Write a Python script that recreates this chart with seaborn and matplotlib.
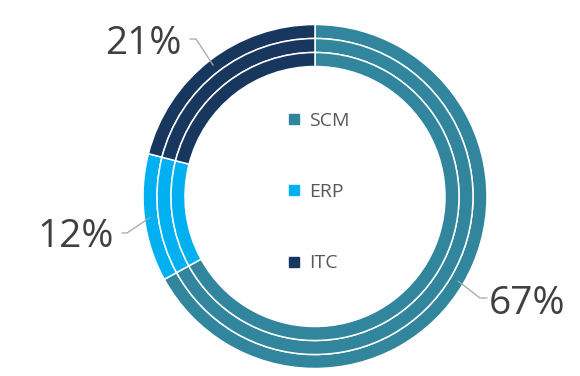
import numpy as np
import matplotlib.pyplot as plt
import seaborn as sns
from matplotlib.lines import Line2D

# data
categories = ["SCM", "ERP", "ITC"]
shares = [67, 12, 21]
colors = ["#31859C", "#00B0F0", "#17375E"]
pct_labels = ["67%", "12%", "21%"]

sns.set_theme(style="white")
plt.rcParams['font.family'] = ['Open Sans', 'DejaVu Sans']

fig = plt.figure(figsize=(5.8, 3.76), dpi=100)
ax = fig.add_axes([0, 0, 1, 1])

cx, cy = 315, 179.5
ring_w = 14
for r in [172, 158, 144]:
    ax.pie(shares, colors=colors, radius=r, center=(cx, cy),
           startangle=90, counterclock=False,
           wedgeprops=dict(width=ring_w, edgecolor="white", linewidth=1.1))

ax.set_xlim(0, 580)
ax.set_ylim(0, 376)
ax.set_aspect("equal")
ax.axis("off")

# data labels with leader lines
text_pos = [(527, 72), (76, 139), (143, 332)]
elbow_dx = [(-47, -40), (51, 46), (53, 47)]
line_y = [78, 143, 337]
start = 90.0
for val, lab, (tx, ty), (ex0, ex1), ly in zip(shares, pct_labels, text_pos, elbow_dx, line_y):
    mid = np.deg2rad(start - val * 3.6 / 2)
    start -= val * 3.6
    ax_, ay_ = cx + 166 * np.cos(mid), cy + 166 * np.sin(mid)
    ax.plot([ax_, tx + ex0, tx + ex1], [ay_, ly, ly], color="#a6a6a6", lw=0.9)
    ax.text(tx, ty, lab, fontsize=28, color="#404040", ha="center", va="center")

handles = [Line2D([], [], marker="s", ls="", markersize=7.5, color=c) for c in colors]
leg = ax.legend(handles, categories, loc="center", bbox_to_anchor=(318 / 580, 184 / 376),
                frameon=False, fontsize=14, labelspacing=2.75, handlelength=0.8,
                handletextpad=0.35, labelcolor="#595959")

fig.savefig("out.png", dpi=100)
